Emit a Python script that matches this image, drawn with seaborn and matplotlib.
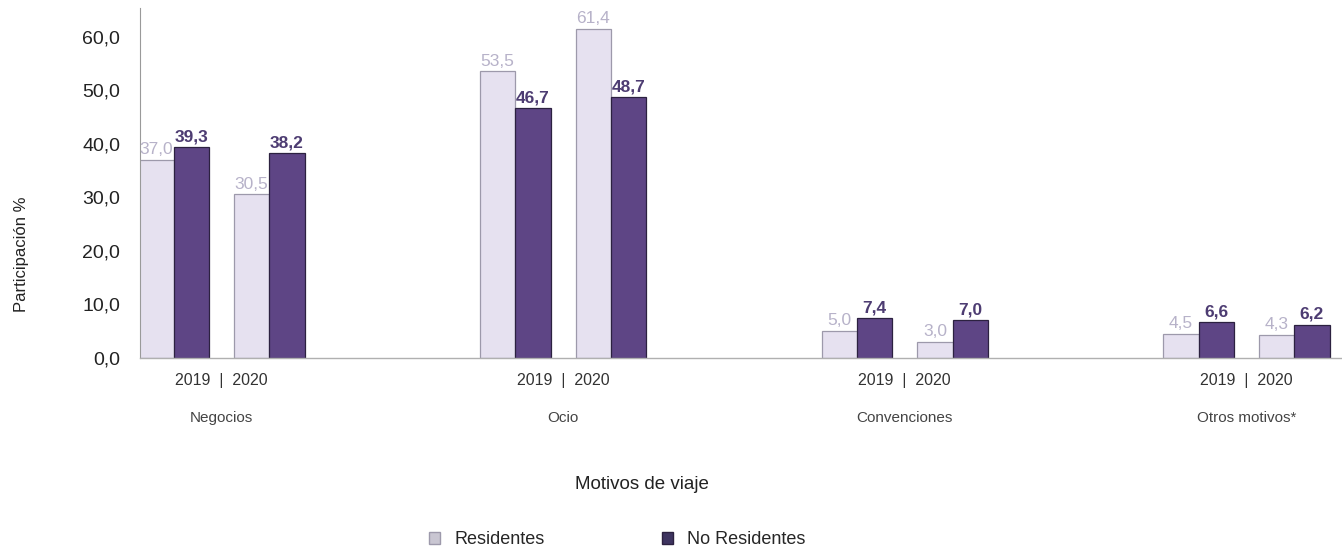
"""
Motivos de viaje - participación (%) de residentes y no residentes, 2019 vs 2020.
Barras agrupadas por motivo y año, dibujadas con seaborn.
"""

# ==========================================
# 1. LIBRERÍAS
# ==========================================
import pandas as pd
import seaborn as sns
import matplotlib.pyplot as plt
from matplotlib.patches import Patch
from matplotlib.transforms import blended_transform_factory

sns.set_style('white')
plt.rcParams['font.family'] = ['Liberation Sans', 'DejaVu Sans']

# ==========================================
# 2. DATOS
# ==========================================
motivos = ["Negocios", "Ocio", "Convenciones", "Otros motivos*"]
anios = ["2019", "2020"]
tipos = ["Residentes", "No Residentes"]

residentes_2019 = [37.0, 53.5, 5.0, 4.5]
residentes_2020 = [30.5, 61.4, 3.0, 4.3]
no_residentes_2019 = [39.3, 46.7, 7.4, 6.6]
no_residentes_2020 = [38.2, 48.7, 7.0, 6.2]

yticks = [0, 10, 20, 30, 40, 50, 60]

# colores
color_res = "#e6e1f0"
color_nores = "#5e4585"
borde_res = "#9d99ab"
borde_nores = "#2c2140"
texto_res = "#b7b2c9"
texto_nores = "#4d3c72"

# ==========================================
# 3. TABLA LARGA PARA SEABORN
# ==========================================
# cada motivo ocupa una unidad en x; 2019 a la izquierda y 2020 a la derecha
desplaz = 0.14
filas = []
for i, motivo in enumerate(motivos):
    valores = {
        ("2019", "Residentes"): residentes_2019[i],
        ("2020", "Residentes"): residentes_2020[i],
        ("2019", "No Residentes"): no_residentes_2019[i],
        ("2020", "No Residentes"): no_residentes_2020[i],
    }
    for j, anio in enumerate(anios):
        for tipo in tipos:
            filas.append({
                "motivo": motivo,
                "anio": anio,
                "pos": i + (2 * j - 1) * desplaz,
                "tipo": tipo,
                "valor": valores[(anio, tipo)],
            })
df = pd.DataFrame(filas)

# ==========================================
# 4. GRÁFICO
# ==========================================
fig = plt.figure(figsize=(13.42, 5.52), dpi=100)
ax = fig.add_axes([0.104, 0.352, 0.896, 0.634])

sns.barplot(data=df, x="pos", y="valor", hue="tipo", hue_order=tipos,
            native_scale=True, palette=[color_res, color_nores],
            saturation=1, width=0.74, errorbar=None, legend=False, ax=ax)

# bordes y etiquetas de valor
for cont, tipo in zip(ax.containers, tipos):
    borde = borde_res if tipo == "Residentes" else borde_nores
    for p in cont:
        p.set_edgecolor(borde)
        p.set_linewidth(0.9)
    etiquetas = [f"{p.get_height():.1f}".replace(".", ",") for p in cont]
    if tipo == "Residentes":
        ax.bar_label(cont, labels=etiquetas, padding=2, fontsize=12.5,
                     color=texto_res)
    else:
        ax.bar_label(cont, labels=etiquetas, padding=2, fontsize=12.5,
                     color=texto_nores, fontweight="bold")

ax.set_xlim(-0.24, 3.28)
ax.set_ylim(0, 65.4)

ax.set_yticks(yticks)
ax.set_yticklabels([f"{v:.1f}".replace(".", ",") for v in yticks],
                   fontsize=14, color="#222222")
ax.set_xticks(range(len(motivos)))
ax.set_xticklabels(["  |  ".join(anios)] * len(motivos), fontsize=11.5,
                   color="#333333")
ax.tick_params(axis="both", length=0)
ax.tick_params(axis="y", pad=14)
ax.tick_params(axis="x", pad=11)
ax.set_xlabel("")
ax.set_ylabel("")

sns.despine(ax=ax, top=True, right=True)
ax.spines["left"].set_color("#9a9a9a")
ax.spines["left"].set_linewidth(0.8)
ax.spines["bottom"].set_color("#b0b0b0")
ax.spines["bottom"].set_linewidth(1.0)

# nombres de motivo debajo de los años
trans = blended_transform_factory(ax.transData, fig.transFigure)
for i, motivo in enumerate(motivos):
    ax.text(i, 0.243, motivo, transform=trans, ha="center", va="center",
            fontsize=11, color="#444444")

# títulos de ejes
fig.text(0.478, 0.122, "Motivos de viaje", ha="center", va="center",
         fontsize=13.5, color="#222222")
fig.text(0.016, 0.54, "Participación %", rotation=90, ha="center",
         va="center", fontsize=12, color="#222222")

# leyenda
manejadores = [Patch(facecolor="#c9c6d2", edgecolor="#9d99ab"),
               Patch(facecolor="#3e3460", edgecolor="#2c2140")]
fig.legend(manejadores, tipos, loc="center", bbox_to_anchor=(0.46, 0.022),
           ncol=2, frameon=False, fontsize=13, handlelength=0.6,
           handleheight=0.6, handletextpad=0.8, columnspacing=6.5)

plt.savefig("out.png", dpi=100)
